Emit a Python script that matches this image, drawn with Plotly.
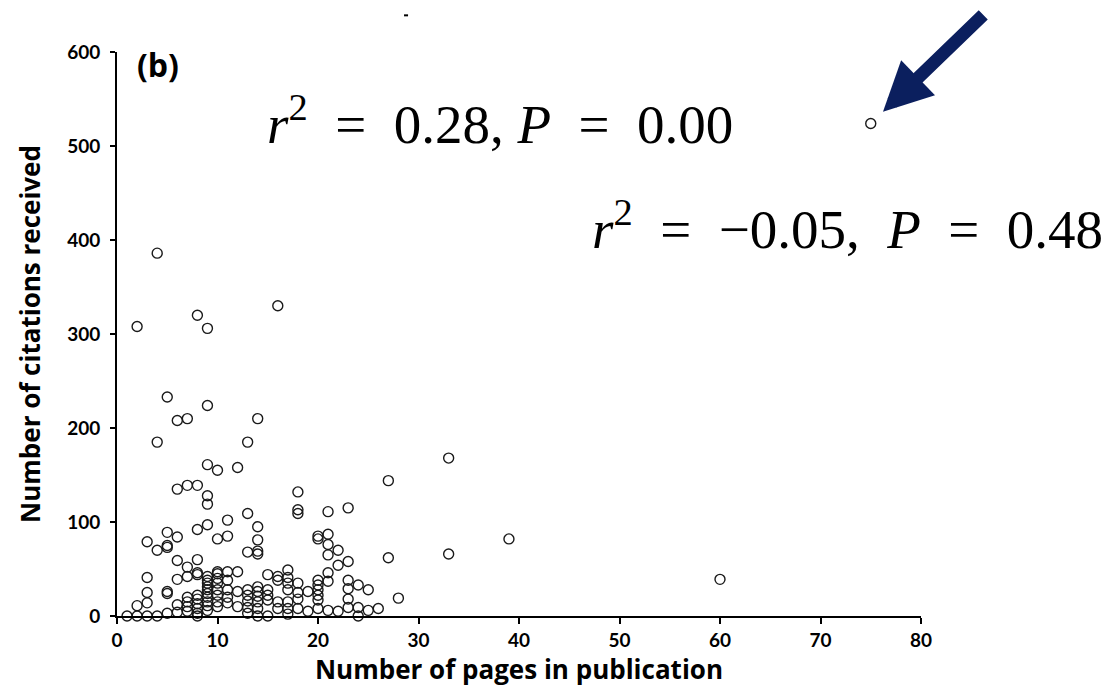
import plotly.graph_objects as go

# Data (pages, citations)
pages = [75, 4, 2, 8, 9, 16,
         5, 9, 6, 7, 14, 4, 13,
         9, 10, 12, 33,
         6, 7, 8, 9, 9, 18, 18, 18, 23, 27, 13, 21,
         11, 14, 9, 10, 11, 3, 5, 6, 8, 4, 5, 5, 13, 14, 14, 14,
         20, 20, 21, 21, 22, 21, 23, 22, 27, 33, 39, 60, 28,
         6, 8, 7, 6, 7, 8, 8, 3, 3, 3, 2, 1, 2, 3, 4, 5, 5, 5, 6, 6,
         7, 7, 7, 7,
         8, 8, 8, 8, 8, 8,
         9, 9, 9, 9, 9, 9, 9, 9, 9, 9,
         10, 10, 10, 10, 10, 10, 10, 10,
         11, 11, 11, 11, 11,
         12, 12, 12,
         13, 13, 13, 13, 13,
         14, 14, 14, 14, 14, 14,
         15, 15, 15, 15, 15,
         16, 16, 16, 16,
         17, 17, 17, 17, 17, 17, 17,
         18, 18, 18, 18,
         19, 19,
         20, 20, 20, 20, 20, 20,
         21, 21, 21,
         22,
         23, 23, 23, 23,
         24, 24, 24,
         25, 25,
         26]
citations = [524, 386, 308, 320, 306, 330,
             233, 224, 208, 210, 210, 185, 185,
             161, 155, 158, 168,
             135, 139, 139, 128, 119, 132, 113, 109, 115, 144, 109, 111,
             102, 95, 97, 82, 85, 79, 89, 84, 92, 70, 75, 73, 68, 81, 69, 66,
             85, 82, 87, 76, 70, 65, 58, 54, 62, 66, 82, 39, 19,
             59, 60, 52, 39, 42, 46, 44, 41, 25, 14, 11, 0, 0, 0, 0, 3, 26, 24, 12, 4,
             20, 15, 10, 5,
             22, 18, 13, 8, 3, 0,
             42, 38, 35, 31, 28, 24, 20, 15, 11, 6,
             47, 45, 40, 35, 28, 22, 15, 10,
             47, 38, 28, 20, 14,
             47, 26, 10,
             28, 22, 16, 9, 3,
             31, 26, 21, 15, 8, 0,
             44, 28, 22, 17, 0,
             42, 38, 15, 8,
             49, 41, 35, 28, 15, 8, 2,
             35, 25, 18, 8,
             26, 5,
             38, 33, 28, 22, 17, 8,
             46, 37, 6,
             5,
             38, 29, 18, 9,
             33, 9, 0,
             28, 6,
             8]

x_ticks = [0, 10, 20, 30, 40, 50, 60, 70, 80]
y_ticks = [0, 100, 200, 300, 400, 500, 600]

label_font = dict(family="Lato", size=19, color="black", weight="bold")
title_font = dict(family="Open Sans", size=26, color="black", weight="bold")
math_font = dict(family="Liberation Serif", size=55, color="black")

fig = go.Figure()
fig.add_trace(go.Scatter(
    x=pages, y=citations, mode="markers",
    marker=dict(symbol="circle-open", size=10, color="#1a1a1a",
                line=dict(width=1.4)),
    cliponaxis=False, showlegend=False, hoverinfo="x+y"))

fig.update_layout(
    width=1109, height=680,
    margin=dict(l=109, r=196, t=44, b=72, autoexpand=False),
    paper_bgcolor="white", plot_bgcolor="white",
    xaxis=dict(range=[0, 80], tickvals=x_ticks, ticks="outside", ticklen=6,
               tickwidth=2, tickcolor="black", showline=True, linecolor="black",
               linewidth=2, showgrid=False, zeroline=False, tickfont=label_font,
               automargin=False,
               title=dict(text="Number of pages in publication", font=title_font,
                          standoff=7)),
    yaxis=dict(range=[0, 600], tickvals=y_ticks, ticks="outside", ticklen=5,
               tickwidth=2, tickcolor="black", showline=True, linecolor="black",
               linewidth=2, showgrid=False, zeroline=False, tickfont=label_font,
               ticklabelstandoff=6, automargin=False,
               title=dict(text="Number of citations received", font=title_font,
                          standoff=19)),
)

fig.add_annotation(x=0.051, y=0.978, xref="paper", yref="paper",
                   text="(b)", showarrow=False, xanchor="center", yanchor="middle",
                   font=dict(family="Open Sans", size=32, color="black", weight="bold"))

fig.add_annotation(x=0.476, y=0.879, xref="paper", yref="paper",
                   xanchor="center", yanchor="middle",
                   text="<i>r</i><sup>2</sup>&nbsp;&nbsp;=&nbsp;&nbsp;0.28,&nbsp;<i>P</i>&nbsp;&nbsp;=&nbsp;&nbsp;0.00",
                   showarrow=False, font=math_font)

fig.add_annotation(x=0.908, y=0.693, xref="paper", yref="paper",
                   xanchor="center", yanchor="middle",
                   text="<i>r</i><sup>2</sup>&nbsp;&nbsp;=&nbsp;&nbsp;\u22120.05,&nbsp;&nbsp;<i>P</i>&nbsp;&nbsp;=&nbsp;&nbsp;0.48",
                   showarrow=False, font=math_font)

fig.add_annotation(x=75, y=524, xref="x", yref="y", text="",
                   showarrow=True, arrowhead=2, arrowsize=0.75, arrowwidth=13,
                   arrowcolor="#0b1f5e", ax=114, ay=-110, standoff=17)

fig.add_shape(type="line", xref="paper", yref="paper",
              x0=0.357, x1=0.362, y0=1.065, y1=1.065,
              line=dict(color="black", width=2))

fig.write_html("out.html")
